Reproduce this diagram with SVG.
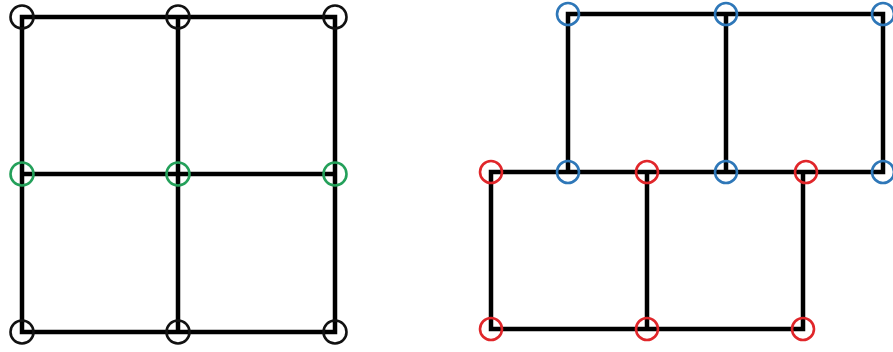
<svg xmlns="http://www.w3.org/2000/svg" width="893" height="352" viewBox="0 0 893 352">
<style>
.e{stroke:#000;stroke-width:4.5;fill:none;stroke-linecap:square}
.n{fill:none;stroke-width:2.6}
.k{stroke:#111}
.g{stroke:#24a05a}
.b{stroke:#2e77b8}
.r{stroke:#e0262a}
</style>
<rect width="893" height="352" fill="#fff"/>
<g id="connectors" class="e">
<path d="M22 17H335M22 174H335M22 332H335M22 17V332M178 17V332M335 17V332"/>
<path d="M568 14H883M491 172H883M491 329H803M568 14V172M726 14V172M883 14V172M491 172V329M647 172V329M803 172V329"/>
</g>
<g id="a1"><circle class="n k" cx="22" cy="17" r="11.5"/></g>
<g id="a2"><circle class="n k" cx="178" cy="17" r="11.5"/></g>
<g id="a3"><circle class="n k" cx="335" cy="17" r="11.5"/></g>
<g id="b1"><circle class="n g" cx="22" cy="174" r="11.5"/></g>
<g id="b2"><circle class="n g" cx="178" cy="174" r="11.5"/></g>
<g id="b3"><circle class="n g" cx="335" cy="174" r="11.5"/></g>
<g id="c1"><circle class="n k" cx="22" cy="332" r="11.5"/></g>
<g id="c2"><circle class="n k" cx="178" cy="332" r="11.5"/></g>
<g id="c3"><circle class="n k" cx="335" cy="332" r="11.5"/></g>
<g id="t1"><circle class="n b" cx="568" cy="14" r="11"/></g>
<g id="t2"><circle class="n b" cx="726" cy="14" r="11"/></g>
<g id="t3"><circle class="n b" cx="883" cy="14" r="11"/></g>
<g id="m1"><circle class="n b" cx="568" cy="172" r="11"/></g>
<g id="m2"><circle class="n b" cx="726" cy="172" r="11"/></g>
<g id="m3"><circle class="n b" cx="883" cy="172" r="11"/></g>
<g id="r1"><circle class="n r" cx="491" cy="172" r="11"/></g>
<g id="r2"><circle class="n r" cx="647" cy="172" r="11"/></g>
<g id="r3"><circle class="n r" cx="806" cy="172" r="11"/></g>
<g id="s1"><circle class="n r" cx="491" cy="329" r="11"/></g>
<g id="s2"><circle class="n r" cx="647" cy="329" r="11"/></g>
<g id="s3"><circle class="n r" cx="803" cy="329" r="11"/></g>
</svg>
